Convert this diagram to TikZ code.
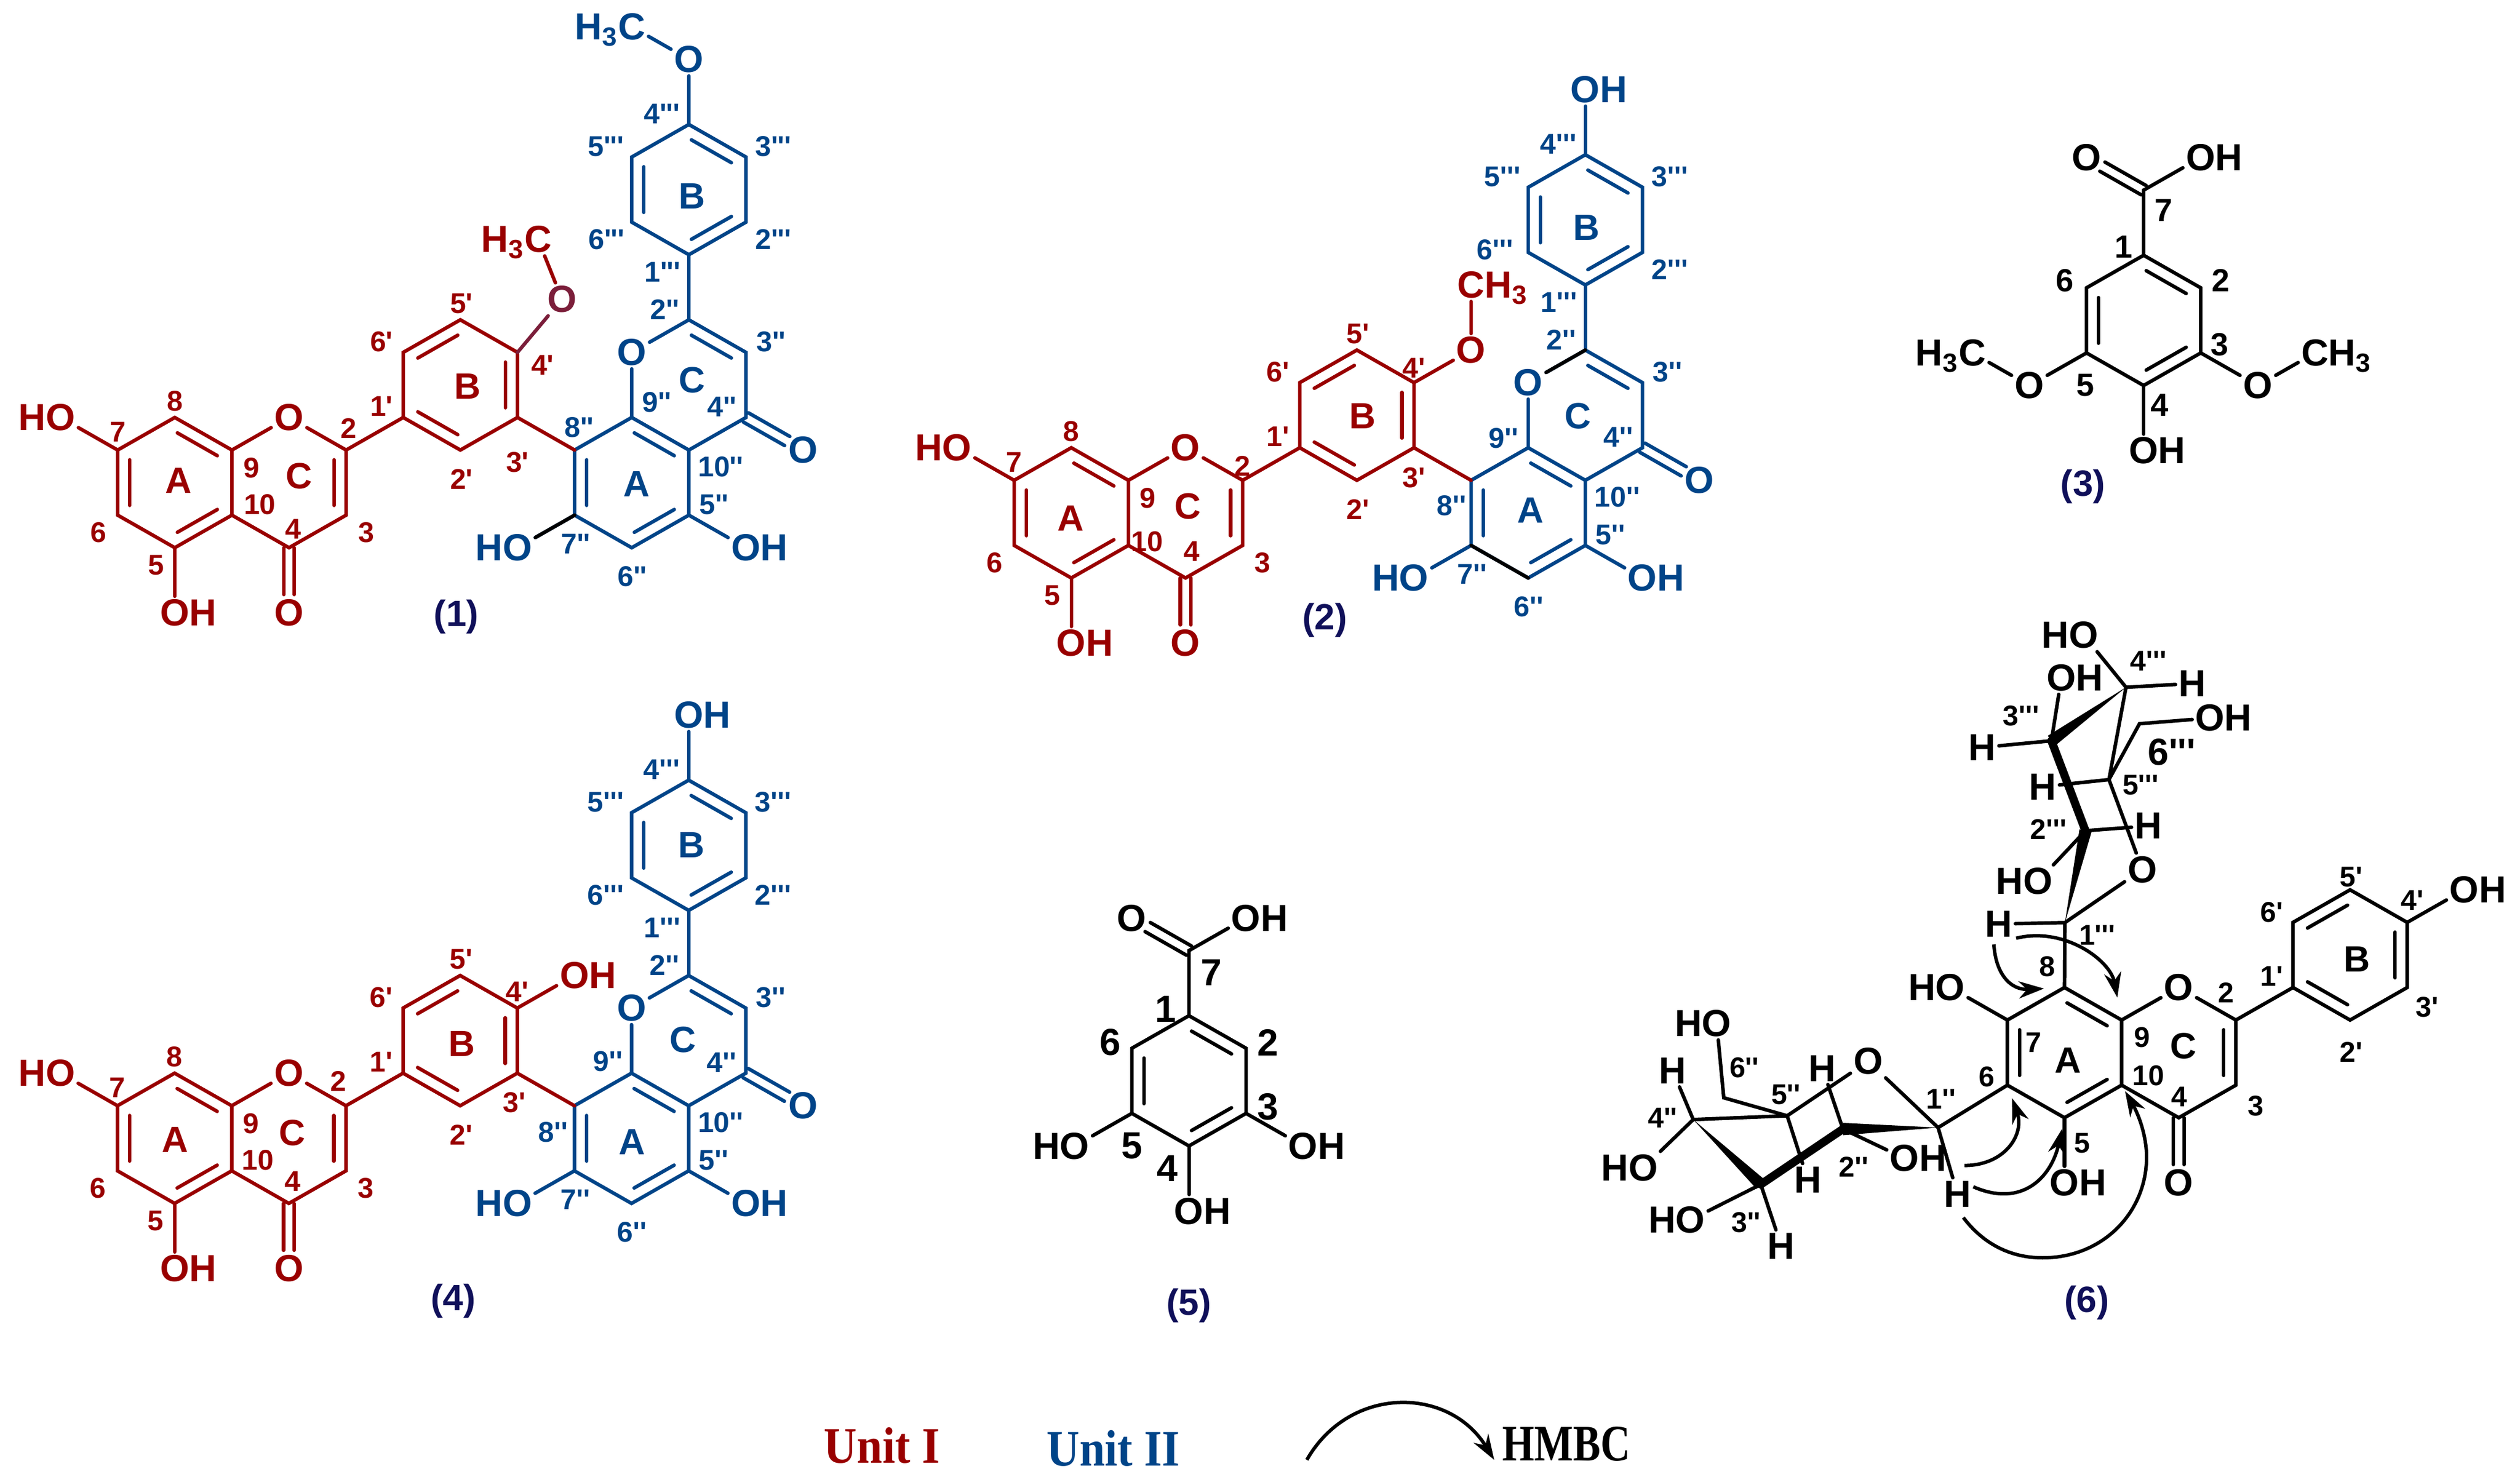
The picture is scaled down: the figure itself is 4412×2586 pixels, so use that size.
\documentclass[tikz,border=0pt]{standalone}
\usepackage{fontspec}
\usepackage{graphicx}
\setmainfont[Ligatures=TeXOff]{Liberation Sans}
\newfontfamily\unitfont{Liberation Serif}
\usetikzlibrary{calc,arrows.meta}

\definecolor{unitred}{HTML}{990000}
\definecolor{unitblue}{HTML}{004488}
\definecolor{unitplum}{HTML}{7B1E3A}
\definecolor{cmpdnavy}{HTML}{10105A}

\tikzset{
	cell/.style={x=25pt,y=14.25pt},
	bond/.style={line width=1.55pt,line cap=round},
	thickbond/.style={line width=3.6pt,line cap=round},
	atom/.style={font=\fontsize{16.5}{16.5}\selectfont\bfseries,inner sep=1.2pt},
	numlab/.style={font=\fontsize{12.5}{12.5}\selectfont\bfseries,inner sep=0pt},
	biglab/.style={font=\fontsize{14}{14}\selectfont\bfseries,inner sep=0pt},
	hugelab/.style={font=\fontsize{16.5}{16.5}\selectfont\bfseries,inner sep=0pt},
	ringlab/.style={font=\fontsize{16}{16}\selectfont\bfseries,inner sep=0pt},
	cmpd/.style={font=\fontsize{16}{16}\selectfont\bfseries,text=cmpdnavy,inner sep=0pt},
	legend/.style={font=\fontsize{20}{20}\selectfont\unitfont\bfseries,inner sep=0pt},
	hmbc/.style={line width=1.5pt,-{Stealth[length=11pt,width=7.5pt]}}
}

% inner line of a ring double bond, a to b counter-clockwise
\newcommand{\inb}[2]{\draw[bond] ($(#1)!.15!(#2)!5.3pt!90:(#2)$) -- ($(#2)!.15!(#1)!5.3pt!-90:(#1)$);}
% C=O
\newcommand{\dbo}[2]{\draw[bond,shorten >=8pt] ($(#1)!2.3pt!90:(#2)$) -- ($(#2)!2.3pt!-90:(#1)$);
	\draw[bond,shorten >=8pt] ($(#1)!2.3pt!-90:(#2)$) -- ($(#2)!2.3pt!90:(#1)$);}
% wedge, narrow at a
\newcommand{\wdg}[2]{\fill (#1) -- ($(#2)!2.7pt!90:(#1)$) -- ($(#2)!2.7pt!-90:(#1)$) -- cycle;}
\newcommand{\putlabs}[3]{\foreach \i/\j/\txt [count=\k] in {#3} \node[#1] (#2\k) at (\i,\j) {\txt};}

\newcommand{\flavmono}{
	\foreach \n/\i/\j in {c7/0/0,c8/1/1,c9/2/0,c10/2/-2,c5/1/-3,c6/0/-2,c2/4/0,c3/4/-2,c4/3/-3,b1/5/1,b2/6/0,b3/7/1,b4/7/3,b5/6/4,b6/5/3}
	\coordinate (\n) at (\i,\j);
	\node[atom] (o1) at (3,1) {O};
	\node[atom] (o4) at (3,-5) {O};
	\node[atom] (o5) at (1,-5) {O\rlap{H}};
	\node[atom] (o7) at (-1,1) {\llap{H}O};
	\draw[bond] (c7) -- (c8) -- (c9) -- (c10) -- (c5) -- (c6) -- cycle;
	\draw[bond] (c9) -- (o1) -- (c2) -- (c3) -- (c4) -- (c10);
	\draw[bond] (b1) -- (b2) -- (b3) -- (b4) -- (b5) -- (b6) -- cycle;
	\draw[bond] (c2) -- (b1);
	\draw[bond] (c7) -- (o7);
	\draw[bond] (c5) -- (o5);
	\dbo{c4}{o4}
	\inb{c7}{c6} \inb{c5}{c10} \inb{c9}{c8} \inb{c3}{c2}
	\inb{b1}{b2} \inb{b3}{b4} \inb{b5}{b6}
}

\newcommand{\flavunit}{
	\foreach \n/\i/\j in {u8/8/0,u9/9/1,u10/10/0,u5/10/-2,u6/9/-3,u7/8/-2,u2/10/4,u3/11/3,u4/11/1,v1/10/6,v2/11/7,v3/11/9,v4/10/10,v5/9/9,v6/9/7}
	\coordinate (\n) at (\i,\j);
	\node[atom] (uo1) at (9,3) {O};
	\node[atom] (uo4) at (12,0) {O};
	\node[atom] (uo5) at (11,-3) {O\rlap{H}};
	\node[atom] (uo7) at (7,-3) {\llap{H}O};
	\draw[bond] (u8) -- (u9) -- (u10) -- (u5) -- (u6) -- (u7) -- cycle;
	\draw[bond] (u9) -- (uo1) -- (u2) -- (u3) -- (u4) -- (u10);
	\draw[bond] (v1) -- (v2) -- (v3) -- (v4) -- (v5) -- (v6) -- cycle;
	\draw[bond] (u2) -- (v1);
	\draw[bond] (u7) -- (uo7);
	\draw[bond] (u5) -- (uo5);
	\dbo{u4}{uo4}
	\inb{u8}{u7} \inb{u6}{u5} \inb{u10}{u9} \inb{u3}{u2}
	\inb{v1}{v2} \inb{v3}{v4} \inb{v5}{v6}
}

\newcommand{\flavdimer}{
	\begin{scope}[color=unitblue]
		\flavunit
	\end{scope}
	\begin{scope}[color=unitred]
		\flavmono
		\draw[bond] (b3) -- (u8);
	\end{scope}
	\putlabs{numlab,unitred}{n}{1/1.5/8,0/.55/7,-.34/-2.53/6,.67/-3.53/5,2.34/-.55/9,4.35/-2.53/3,4.62/1.35/1',6.02/-.9/2',6.02/4.5/5',4.62/3.32/6'}
	\putlabs{numlab,unitblue}{p}{10.56/-.52/10'',10.44/-1.67/5'',8.02/-2.88/7'',9.01/-3.88/6'',10.58/1.32/4'',11.44/3.32/3'',9.58/4.32/2'',9.54/5.47/1''',11.48/6.47/2''',11.48/9.33/3''',9.53/10.32/4''',8.55/9.33/5'''}
}

\newcommand{\benzcore}{
	\foreach \n/\i/\j in {c1/0/0,c2/1/-1,c3/1/-3,c4/0/-4,c5/-1/-3,c6/-1/-1,c7/0/2}
	\coordinate (\n) at (\i,\j);
	\node[atom] (o7) at (-1,3) {O};
	\node[atom] (oh7) at (1,3) {O\rlap{H}};
	\node[atom] (oh4) at (0,-6) {O\rlap{H}};
	\draw[bond] (c1) -- (c2) -- (c3) -- (c4) -- (c5) -- (c6) -- cycle;
	\draw[bond] (c1) -- (c7) -- (oh7);
	\draw[bond] (c4) -- (oh4);
	\dbo{c7}{o7}
	\inb{c2}{c1} \inb{c4}{c3} \inb{c6}{c5}
}

\begin{document}
\begin{tikzpicture}[x=.25pt,y=.25pt]
	\useasboundingbox (0,0) rectangle (4412,2586);
	
	% (1)
	\begin{scope}[shift={(206,1798)},cell,name prefix=m1-]
		\flavdimer
		\node[atom,unitblue] (vo) at (10,12) {O};
		\node[atom,unitblue] (vme) at (9,13) {\smash{\llap{H\textsubscript{3}}}C};
		\draw[bond,unitblue] (v4) -- (vo) -- (vme);
		\node[atom,unitplum] (bo) at (7.78,4.63) {O};
		\node[atom,unitred] (bme) at (7.36,6.47) {\smash{\llap{H\textsubscript{3}}}C};
		\draw[bond,unitplum] (b4) -- (bo);
		\draw[bond,unitred] (bo) -- (bme);
		\draw[bond,black] (u7) -- (uo7);
		\putlabs{numlab,unitred}{e}{2.49/-1.68/10,3.07/-2.42/4,4.04/.67/2,7/-.38/3',7.44/2.61/4'}
		\putlabs{numlab,unitblue}{f}{8.08/.7/8'',9.44/1.47/9'',8.56/6.47/6'''}
		\putlabs{ringlab,unitred}{r}{1.07/-.94/A,3.18/-.8/C,6.13/1.95/B}
		\putlabs{ringlab,unitblue}{s}{9.09/-1.05/A,10.06/2.15/C,10.06/7.8/B}
		\node[cmpd] (cmpd) at (5.93,-5.13) {(1)};
	\end{scope}
	
	% (2)
	\begin{scope}[shift={(1775.6,1745)},cell,name prefix=m2-]
		\flavdimer
		\node[atom,unitblue] (vo) at (10,12) {O\rlap{H}};
		\draw[bond,unitblue] (v4) -- (vo);
		\node[atom,unitred] (bo) at (8,4) {O};
		\node[atom,unitred] (bme) at (8,6) {C\smash{\rlap{H\textsubscript{3}}}};
		\draw[bond,unitred] (b4) -- (bo) -- (bme);
		\draw[bond,black] (uo1) -- (u2);
		\draw[bond,black] (u7) -- (u6);
		\putlabs{numlab,unitred}{e}{2.33/-1.89/10,3.11/-2.19/4,4/.43/2,7/.08/3',7/3.45/4'}
		\putlabs{numlab,unitblue}{f}{7.66/-.77/8'',8.57/1.29/9'',8.42/7.08/6'''}
		\putlabs{ringlab,unitred}{r}{.99/-1.16/A,3.04/-.8/C,6.1/1.97/B}
		\putlabs{ringlab,unitblue}{s}{9.04/-.92/A,9.87/1.97/C,10.02/7.76/B}
		\node[cmpd] (cmpd) at (5.44,-4.3) {(2)};
	\end{scope}
	
	% (4)
	\begin{scope}[shift={(205.7,650)},cell,name prefix=m4-]
		\flavdimer
		\node[atom,unitblue] (vo) at (10,12) {O\rlap{H}};
		\draw[bond,unitblue] (v4) -- (vo);
		\node[atom,unitred] (bo) at (8,4) {O\rlap{H}};
		\draw[bond,unitred] (b4) -- (bo);
		\putlabs{numlab,unitred}{e}{2.46/-1.67/10,3.07/-2.32/4,3.87/.75/2,6.95/.1/3',7/3.51/4'}
		\putlabs{numlab,unitblue}{f}{7.63/-.82/8'',8.59/1.36/9'',8.55/6.47/6'''}
		\putlabs{ringlab,unitred}{r}{1.01/-1.05/A,3.06/-.84/C,6.03/1.9/B}
		\putlabs{ringlab,unitblue}{s}{9.01/-1.12/A,9.9/2.03/C,10.05/8/B}
		\node[cmpd] (cmpd) at (5.88,-6) {(4)};
	\end{scope}
	
	% (3)
	\begin{scope}[shift={(3753,2139)},cell,name prefix=m3-]
		\benzcore
		\node[atom] (o3) at (2,-4) {O};
		\node[atom] (me3) at (3,-3) {C\smash{\rlap{H\textsubscript{3}}}};
		\node[atom] (o5) at (-2,-4) {O};
		\node[atom] (me5) at (-3,-3) {\smash{\llap{H\textsubscript{3}}}C};
		\draw[bond] (c3) -- (o3) -- (me3);
		\draw[bond] (c5) -- (o5) -- (me5);
		\putlabs{biglab}{n}{-.35/.25/1,1.35/-.77/2,1.33/-2.75/3,.28/-4.6/4,-1.02/-4/5,-1.38/-.77/6,.35/1.38/7}
		\node[cmpd] (cmpd) at (-1.06,-7.1) {(3)};
	\end{scope}
	
	% (5)
	\begin{scope}[shift={(2081.6,807.6)},cell,name prefix=m5-]
		\benzcore
		\node[atom] (o3) at (2,-4) {O\rlap{H}};
		\node[atom] (o5) at (-2,-4) {\llap{H}O};
		\draw[bond] (c3) -- (o3);
		\draw[bond] (c5) -- (o5);
		\putlabs{hugelab}{n}{-.41/.2/1,1.38/-.82/2,1.38/-2.79/3,-.38/-4.7/4,-1/-4/5,-1.38/-.82/6,.39/1.32/7}
		\node[cmpd] (cmpd) at (0,-8.9) {(5)};
	\end{scope}
	
	% (6)
	\begin{scope}[shift={(3514.5,800)},cell,name prefix=m6-]
		\flavmono
		\node[atom] (bo) at (8,4) {O\rlap{H}};
		\draw[bond] (b4) -- (bo);
		\putlabs{numlab}{n}{.7/1.64/8,.46/-.69/7,-.36/-1.75/6,1.31/-3.79/5,2.36/-.54/9,2.47/-1.71/10,3.01/-2.36/4,4.35/-2.63/3,3.83/.84/2,4.63/1.35/1',6.02/-.98/2',7.35/.4/3',7.09/3.68/4',6.02/4.4/5',4.63/3.31/6'}
		\putlabs{ringlab}{r}{1.06/-1.23/A,3.08/-.79/C,6.12/1.86/B}
		\node[cmpd] (cmpd) at (1.39,-8.69) {(6)};
	\end{scope}
	
	% sugars of (6)
	\begin{scope}[shift={(2800,1536)},x=.257pt,y=-.20725pt,name prefix=m6-]
		\foreach \n/\i/\j in {g1/793/682,g2/828/488,g3/770/298,g4/897/185,g5/868/380,g6/920/262,s1/577/1115,s2/415/1118,s3/275/1235,s4/160/1098,s5/320/1090,s6/212/1052,ta/672/728,tb/710/715,tc/622/1195,td/637/1240,te/620/1305}
		\coordinate (\n) at (\i,\j);
		\foreach \n/\i/\j in {go/925/570,sgo/458/975}
		\node[atom] (\n) at (\i,\j) {O};
		\foreach \n/\i/\j in {gh1/680/685,gh2/935/478,gh3/652/312,gh4/1010/177,gh5/755/395,sh1/610/1255,sh2/380/990,sh3/310/1365,sh4/125/995,sh5/355/1225}
		\node[atom] (\n) at (\i,\j) {H};
		\foreach \n/\i/\j in {go3/787/165,go6/1040/250,so2/520/1180}
		\node[atom] (\n) at (\i,\j) {O\rlap{H}};
		\foreach \n/\i/\j in {go2/747/595,go4/825/75,so3/155/1310,so4/75/1200,so6/200/895}
		\node[atom] (\n) at (\i,\j) {\llap{H}O};
		
		\draw[bond] (c8) -- (g1);
		\draw[bond] (gh1) -- (g1) -- (go) -- (g5);
		\draw[bond] (g2) -- (go2);
		\draw[bond] (g2) -- (gh2);
		\draw[bond] (gh5) -- (g5) -- (g4);
		\draw[bond] (g5) -- (g6) -- (go6);
		\draw[bond] (g4) -- (go4);
		\draw[bond] (g4) -- (gh4);
		\draw[bond] (g3) -- (go3);
		\draw[bond] (g3) -- (gh3);
		\draw[thickbond] (g2) -- (g3);
		\wdg{g1}{g2}
		\wdg{g4}{g3}
		
		\draw[bond] (c6) -- (s1) -- (sgo) -- (s5);
		\draw[bond] (s1) -- (sh1);
		\draw[bond] (s2) -- (so2);
		\draw[bond] (s2) -- (sh2);
		\draw[bond] (s3) -- (so3);
		\draw[bond] (s3) -- (sh3);
		\draw[bond] (s4) -- (s5) -- (sh5);
		\draw[bond] (s4) -- (sh4);
		\draw[bond] (s4) -- (so4);
		\draw[bond] (s5) -- (s6) -- (so6);
		\draw[thickbond] (s2) -- (s3);
		\wdg{s1}{s2}
		\wdg{s4}{s3}
		
		\draw[hmbc,shorten >=9pt] (ta) .. controls (675,790) and (700,825) .. (c8);
		\draw[hmbc,shorten >=10pt] (tb) .. controls (790,690) and (870,760) .. (c9);
		\draw[hmbc,shorten >=6pt] (tc) .. controls (690,1195) and (725,1130) .. (c6);
		\draw[hmbc,shorten >=5pt] (td) .. controls (720,1285) and (770,1220) .. (c5);
		\draw[hmbc,shorten >=3pt] (te) .. controls (660,1370) and (710,1390) .. (755,1390) .. controls (860,1390) and (935,1290) .. (932,1170) .. controls (930,1120) and (915,1080) .. (c10);
		
		\putlabs{numlab}{q}{848/708/1''',765/485/2''',718/245/3''',935/130/4''',922/392/5''',582/1055/1'',433/1198/2'',250/1315/3'',108/1095/4'',318/1045/5'',247/988/6''}
		\node[atom] (q6) at (975,322) {6'''};
	\end{scope}
	
	% legend
	\node[legend,unitred] (unita) at (1544,55) {\scalebox{1}[1.12]{Unit I}};
	\node[legend,unitblue] (unitb) at (1949,50) {\scalebox{1}[1.12]{Unit II}};
	\node[legend] (hmbclab) at (2742,58) {\scalebox{.9}[1.12]{HMBC}};
	\coordinate (arra) at (2288,30);
	\coordinate (arrb) at (2616,30);
	\draw[hmbc] (arra) .. controls (2362,160) and (2536,160) .. (arrb);
\end{tikzpicture}
\end{document}
